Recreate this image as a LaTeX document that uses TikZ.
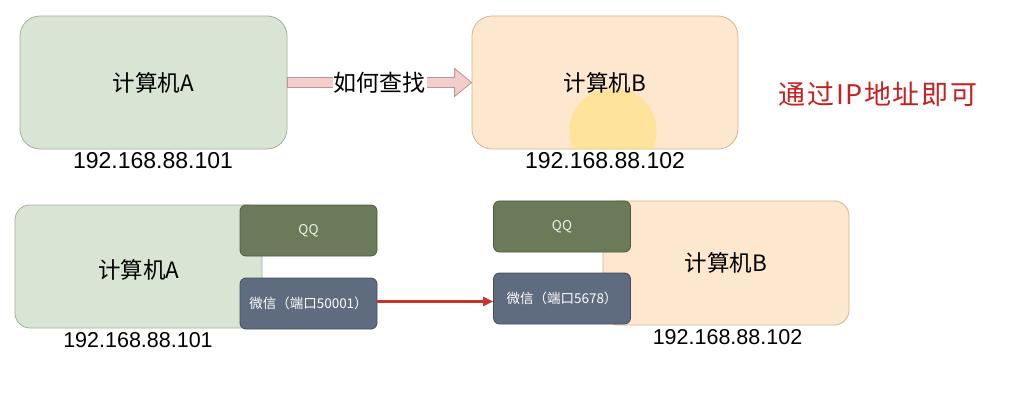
\documentclass[tikz,border=0pt]{standalone}
\usepackage{fontspec}
\setmainfont{Liberation Sans}
\newfontfamily\cjk{Noto Sans CJK SC}
\newfontfamily\cjkred[LetterSpace=6]{Noto Sans CJK SC}
\usetikzlibrary{calc,arrows.meta}
\definecolor{gfill}{HTML}{D8E5D4}
\definecolor{gline}{HTML}{A3AE9F}
\definecolor{ofill}{HTML}{FDE7CE}
\definecolor{oline}{HTML}{D2B68C}
\definecolor{pfill}{HTML}{F3CDCB}
\definecolor{pline}{HTML}{B89896}
\definecolor{qqfill}{HTML}{6B7A58}
\definecolor{qqline}{HTML}{4E5B40}
\definecolor{qqtext}{HTML}{EEF2E8}
\definecolor{wxfill}{HTML}{5F6B7E}
\definecolor{wxline}{HTML}{434D5D}
\definecolor{redtxt}{HTML}{C82020}
\definecolor{redarr}{HTML}{C8342C}
\definecolor{hilite}{HTML}{FFE070}
\tikzset{
  pc/.style={draw, line width=0.8pt, inner sep=0pt,
    font=\cjk\fontsize{22.5}{26}\selectfont},
  greenbox/.style={pc, fill=gfill, draw=gline},
  orangebox/.style={pc, fill=ofill, draw=oline},
  app/.style={draw, rounded corners=6pt, line width=0.8pt,
    minimum width=137pt, minimum height=51pt, inner sep=0pt,
    font=\cjk\fontsize{13.5}{16}\selectfont},
  qqbox/.style={app, fill=qqfill, draw=qqline, text=qqtext},
  wxbox/.style={app, fill=wxfill, draw=wxline, text=white},
  iptext/.style={font=\fontsize{23}{27}\selectfont, inner sep=0pt},
  iptextsmall/.style={font=\fontsize{21.5}{25}\selectfont, inner sep=0pt},
  blockarrow/.style={fill=pfill, draw=pline, line width=0.8pt, line join=miter},
  redarrow/.style={draw=redarr, line width=2.2pt, -{Triangle[length=10pt,width=9pt]}}
}
\begin{document}
\begin{tikzpicture}[x=1pt,y=-1pt]
\useasboundingbox (0,0) rectangle (1022,414);
\fill[white] (0,0) rectangle (1022,414);
% top row
\node[greenbox, rounded corners=20pt, minimum width=267pt, minimum height=133pt] (A) at (153.5,82.5) {计算机A};
\node[orangebox, rounded corners=20pt, minimum width=266pt, minimum height=133pt] (B) at (605,82.5) {};
\begin{scope}
  \clip[rounded corners=20pt] (B.south west) rectangle (B.north east);
  \fill[hilite, opacity=0.55] (613,131) circle (43.5);
\end{scope}
\node[pc, draw=none] (Bt) at (B.center) {计算机B};
\node[iptext] (ipA) at (153,161) {192.168.88.101};
\node[iptext] (ipB) at (605,161) {192.168.88.102};
\coordinate (s) at (A.east);
\coordinate (e) at (B.west);
\draw[blockarrow] ($(s)+(0,-5)$) -- ($(e)+(-17,-5)$) -- ($(e)+(-17,-14)$) -- (e)
  -- ($(e)+(-17,14)$) -- ($(e)+(-17,5)$) -- ($(s)+(0,5)$) -- cycle;
\node[fill=white, inner xsep=1pt, inner ysep=0pt, font=\cjk\fontsize{23}{27}\selectfont] (L) at ($(s)!0.5!(e)$) {如何查找};
\node[text=redtxt, inner sep=0pt, font=\cjkred\fontsize{27}{32}\selectfont] (R) at (878,94.5) {通过IP地址即可};
% bottom row
\node[greenbox, rounded corners=15pt, minimum width=247pt, minimum height=123pt] (A2) at (138.5,266.5) {};
\node[pc, draw=none] (A2t) at (139,270) {计算机A};
\node[orangebox, rounded corners=15pt, minimum width=246pt, minimum height=124pt] (B2) at (726,263) {计算机B};
\node[qqbox] (QA) at (308.5,230.5) {QQ};
\node[wxbox] (WA) at (308.5,303.5) {微信（端口50001）};
\node[qqbox] (QB) at (562,226.5) {QQ};
\node[wxbox] (WB) at (562,298.5) {微信（端口5678）};
\node[iptextsmall] (ipA2) at (138,340) {192.168.88.101};
\node[iptextsmall] (ipB2) at (727.5,337) {192.168.88.102};
\coordinate (rs) at ($(WA.east)+(0,-2)$);
\draw[redarrow] (rs) -- (rs -| WB.west);
\end{tikzpicture}
\end{document}
